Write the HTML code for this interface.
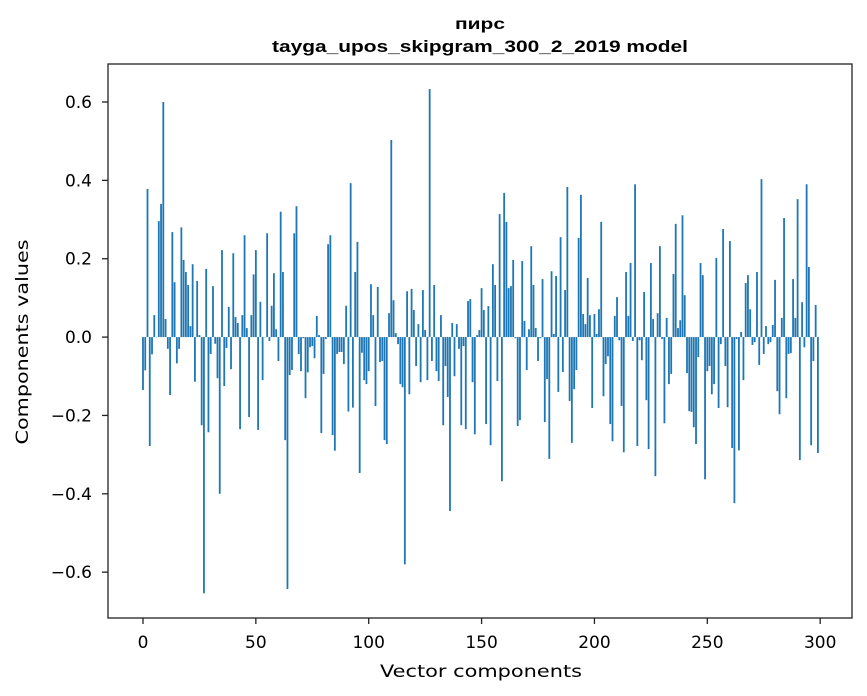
<!DOCTYPE html>
<html><head><meta charset="utf-8"><style>
body{margin:0;background:#fff;}
svg{display:block;font-family:"DejaVu Sans","Liberation Sans",sans-serif;}
</style></head><body>
<svg id="chart" width="867" height="696">
<rect width="867" height="696" fill="#fff"/>
<text x="480" y="29" text-anchor="middle" font-size="16" font-weight="bold" textLength="50" lengthAdjust="spacingAndGlyphs" font-family="'Liberation Sans','DejaVu Sans',sans-serif">пирс</text>
<text x="480" y="52" text-anchor="middle" font-size="17" font-weight="bold" textLength="416" lengthAdjust="spacingAndGlyphs" font-family="'Liberation Sans','DejaVu Sans',sans-serif">tayga_upos_skipgram_300_2_2019 model</text>
<g id="bars"></g>
<g id="axes"></g>
<text x="481" y="677" text-anchor="middle" font-size="17" textLength="202" lengthAdjust="spacingAndGlyphs">Vector components</text>
<text transform="translate(28,342) rotate(-90)" text-anchor="middle" font-size="17" textLength="205" lengthAdjust="spacingAndGlyphs">Components values</text>
</svg>
<script>
const values = [
-0.135,-0.085,0.378,-0.278,-0.044,0.056,0.0,0.296,0.34,0.6,
0.046,-0.03,-0.148,0.268,0.14,-0.067,-0.03,0.28,0.197,0.166,
0.133,0.028,0.186,-0.114,0.143,0.005,-0.225,-0.654,0.174,-0.243,
-0.043,0.13,-0.017,-0.105,-0.40,0.222,-0.125,-0.028,0.077,-0.082,
0.214,0.051,0.036,-0.235,0.056,0.26,0.023,-0.204,0.056,0.16,
0.222,-0.237,0.09,-0.11,0.0,0.265,-0.01,0.08,0.163,0.02,
-0.061,0.32,0.166,-0.263,-0.643,-0.097,-0.084,0.265,0.334,-0.043,
-0.087,-0.003,-0.156,-0.09,-0.026,-0.023,-0.054,0.054,0.005,-0.245,
-0.094,-0.005,0.237,0.26,-0.25,-0.29,-0.043,-0.038,-0.038,-0.069,
0.08,-0.19,0.393,-0.18,0.166,0.243,-0.347,-0.04,-0.11,-0.12,
-0.087,0.135,0.056,-0.176,0.128,-0.064,-0.061,-0.263,-0.273,0.061,
0.503,0.094,0.01,-0.018,-0.12,-0.128,-0.58,0.117,-0.146,0.123,
0.069,-0.074,0.033,-0.115,0.12,0.018,-0.11,0.633,-0.061,0.133,
-0.087,-0.112,0.056,-0.225,-0.074,-0.153,-0.444,0.036,-0.1,0.033,
-0.03,-0.225,-0.023,-0.235,0.092,0.097,-0.115,-0.248,0.005,0.018,
0.125,0.069,-0.222,0.079,-0.276,0.186,0.133,-0.112,0.314,-0.368,
0.368,0.294,0.125,0.13,0.197,-0.003,-0.227,-0.212,0.194,0.041,
-0.084,0.02,0.232,0.133,0.023,-0.061,-0.003,0.148,-0.217,-0.107,
-0.311,0.168,0.008,0.156,-0.14,0.255,-0.089,0.12,0.383,-0.163,
-0.27,-0.133,-0.084,0.253,0.363,0.059,0.033,0.151,0.056,-0.181,
0.059,0.008,0.071,0.294,-0.151,-0.069,-0.049,-0.222,-0.266,0.054,
0.102,-0.008,-0.176,-0.294,0.166,0.054,0.189,-0.01,0.39,-0.278,
-0.008,-0.059,0.115,-0.161,-0.286,0.189,0.046,-0.355,0.061,0.232,
-0.005,-0.22,0.049,-0.12,-0.094,0.161,0.289,0.023,0.043,0.311,
0.107,-0.092,-0.189,-0.191,-0.23,-0.273,-0.051,0.189,0.158,-0.363,
-0.087,-0.074,-0.146,-0.12,0.202,-0.181,-0.018,0.276,-0.074,-0.179,
0.245,-0.283,-0.424,-0.005,-0.289,0.013,-0.11,0.138,0.158,0.071,
-0.02,-0.013,0.166,-0.071,0.403,-0.043,0.028,-0.018,-0.013,0.031,
0.146,-0.138,-0.197,0.049,0.304,-0.156,-0.043,-0.041,0.148,0.049,
0.352,-0.314,0.089,-0.026,0.39,0.179,-0.276,-0.061,0.082,-0.296
];
const xTicks = [0,50,100,150,200,250,300];
const yTicks = [-0.6,-0.4,-0.2,0.0,0.2,0.4,0.6];
const yTickLabels = ["\u22120.6","\u22120.4","\u22120.2","0.0","0.2","0.4","0.6"];

const L=108,R=852,T=64,B=618;
const xMin=-15.5,xMax=314.1,yMin=-0.717,yMax=0.697;
const xs=v=>L+(v-xMin)/(xMax-xMin)*(R-L);
const ys=v=>B-(v-yMin)/(yMax-yMin)*(B-T);
const NS="http://www.w3.org/2000/svg";
const bars=document.getElementById('bars');
const bw=0.8;
values.forEach((v,i)=>{
  const r=document.createElementNS(NS,'rect');
  const x0=xs(i-bw/2),x1=xs(i+bw/2);
  const y0=ys(Math.max(v,0)),y1=ys(Math.min(v,0));
  r.setAttribute('x',x0);r.setAttribute('width',x1-x0);
  r.setAttribute('y',y0);r.setAttribute('height',Math.max(y1-y0,0.3));
  r.setAttribute('fill','#1f77b4');
  
  
  bars.appendChild(r);
});
const ax=document.getElementById('axes');
const f=document.createElementNS(NS,'rect');
f.setAttribute('x',L);f.setAttribute('y',T);f.setAttribute('width',R-L);f.setAttribute('height',B-T);
f.setAttribute('fill','none');f.setAttribute('stroke','#222');f.setAttribute('stroke-width','1.3');


ax.appendChild(f);
xTicks.forEach(t=>{
  const x=xs(t);
  const l=document.createElementNS(NS,'line');
  l.setAttribute('x1',x);l.setAttribute('x2',x);l.setAttribute('y1',B);l.setAttribute('y2',B+6);
  l.setAttribute('stroke','#222');l.setAttribute('stroke-width','1.3');
  
  
  ax.appendChild(l);
  const s=document.createElementNS(NS,'text');
  s.setAttribute('x',x);s.setAttribute('y',B+30);s.setAttribute('text-anchor','middle');s.setAttribute('font-size','17');
  s.textContent=t;
  
  
  ax.appendChild(s);
});
yTicks.forEach((t,i)=>{
  const y=ys(t);
  const l=document.createElementNS(NS,'line');
  l.setAttribute('x1',L-6);l.setAttribute('x2',L);l.setAttribute('y1',y);l.setAttribute('y2',y);
  l.setAttribute('stroke','#222');l.setAttribute('stroke-width','1.3');
  
  
  ax.appendChild(l);
  const s=document.createElementNS(NS,'text');
  s.setAttribute('x',L-16);s.setAttribute('y',y+6);s.setAttribute('text-anchor','end');s.setAttribute('font-size','17');
  s.textContent=yTickLabels[i];
  
  
  ax.appendChild(s);
});
</script>
</body></html>
